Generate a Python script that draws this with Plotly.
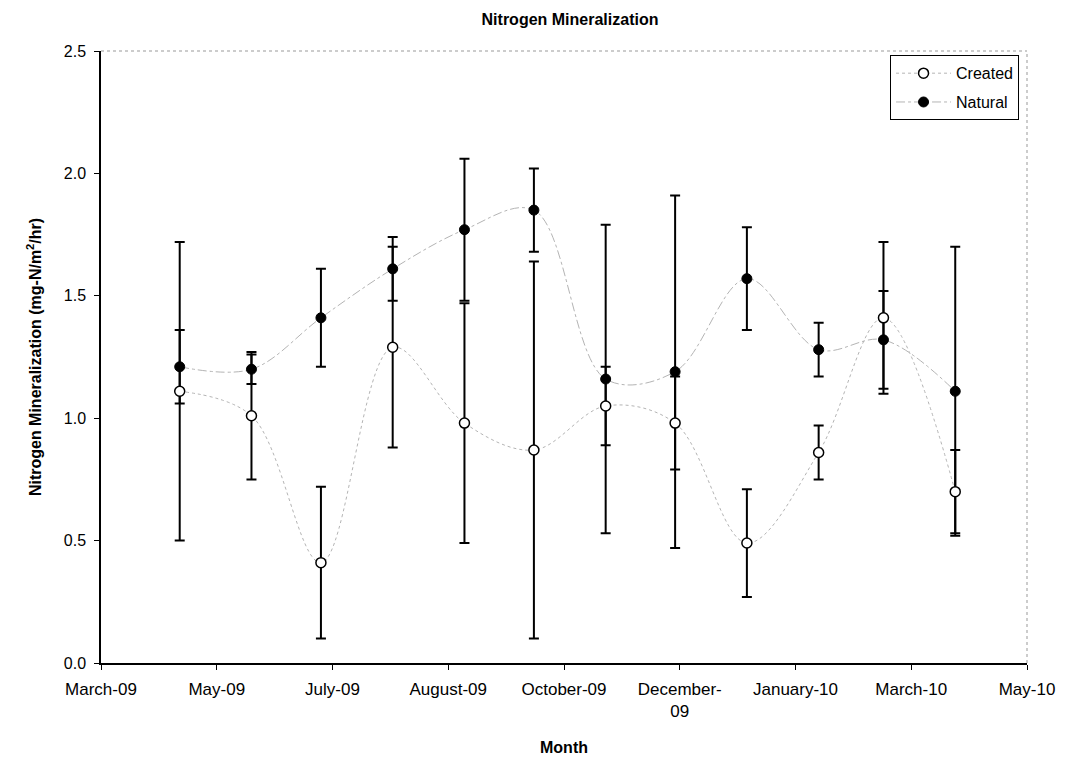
import pandas as pd
import plotly.graph_objects as go

# Sampling dates (monthly, May 2009 - April 2010)
dates = ["2009-05-04", "2009-06-04", "2009-07-04", "2009-08-04", "2009-09-04", "2009-10-04",
         "2009-11-04", "2009-12-04", "2010-01-04", "2010-02-04", "2010-03-04", "2010-04-04"]

# Mean mineralization rates (mg-N/m2/hr) and their error values
created = [1.11, 1.01, 0.41, 1.29, 0.98, 0.87, 1.05, 0.98, 0.49, 0.86, 1.41, 0.70]
created_err = [0.61, 0.26, 0.31, 0.41, 0.49, 0.77, 0.16, 0.19, 0.22, 0.11, 0.31, 0.17]
natural = [1.21, 1.20, 1.41, 1.61, 1.77, 1.85, 1.16, 1.19, 1.57, 1.28, 1.32, 1.11]
natural_err = [0.15, 0.06, 0.20, 0.13, 0.29, 0.17, 0.63, 0.72, 0.21, 0.11, 0.20, 0.59]

# Date axis: 50-day major unit
axis_start, axis_end = "2009-03-31", "2010-05-05"
tick_dates = pd.date_range(axis_start, axis_end, freq="50D")
tick_text = []
for d in tick_dates:
    s = d.strftime("%B-%y")
    if len(s) > 10:
        s = s.replace("-", "-<br>")
    tick_text.append(s)

FONT = "Arial, 'Liberation Sans', sans-serif"
GRAY = "#b4b4b4"

fig = go.Figure()

fig.add_trace(go.Scatter(
    x=dates, y=natural, name="Natural", mode="lines+markers",
    line=dict(color=GRAY, width=1, dash="dashdot", shape="spline", smoothing=1),
    marker=dict(symbol="circle", size=10, color="black", line=dict(color="black", width=1)),
    error_y=dict(type="data", array=natural_err, visible=True, color="black",
                 thickness=2, width=5),
    legendrank=2, legendgroup="natural",
))

fig.add_trace(go.Scatter(
    x=dates, y=created, name="Created", mode="lines+markers",
    line=dict(color=GRAY, width=1, dash="dot", shape="spline", smoothing=1),
    marker=dict(symbol="circle", size=10, color="white", line=dict(color="black", width=1.5)),
    error_y=dict(type="data", array=created_err, visible=True, color="black",
                 thickness=2, width=5),
    legendrank=1, legendgroup="created",
))

# Light dotted frame on the top and right of the plotting area
fig.add_shape(type="line", xref="paper", yref="paper", x0=0, x1=1, y0=1, y1=1,
              line=dict(color="#999999", width=1, dash="dot"))
fig.add_shape(type="line", xref="paper", yref="paper", x0=1, x1=1, y0=0, y1=1,
              line=dict(color="#999999", width=1, dash="dot"))

fig.update_layout(
    width=1065, height=760,
    margin=dict(l=101, r=38, t=51, b=97),
    paper_bgcolor="white", plot_bgcolor="white",
    font=dict(family=FONT, size=16, color="black"),
    title=dict(text="<b>Nitrogen Mineralization</b>", x=570 / 1065, xref="container",
               xanchor="center", y=1 - 19 / 760, yanchor="middle",
               font=dict(size=16, family=FONT)),
    showlegend=True,
    legend=dict(x=0.9914, y=0.993, xanchor="right", yanchor="top",
                bordercolor="black", borderwidth=1, bgcolor="white",
                font=dict(size=16, family=FONT), traceorder="grouped",
                tracegroupgap=5, itemwidth=55),
    xaxis=dict(
        type="date", range=[axis_start, axis_end], automargin=False,
        tickmode="array", tickvals=tick_dates, ticktext=tick_text,
        showgrid=False, zeroline=False,
        showline=True, linecolor="black", linewidth=1.5,
        ticks="outside", ticklen=5, tickcolor="black",
        ticklabelstandoff=5, tickfont=dict(size=17),
        title=dict(text="<b>Month</b>", standoff=22, font=dict(size=16)),
    ),
    yaxis=dict(
        range=[0, 2.5], dtick=0.5, tickformat=".1f", automargin=False,
        showgrid=False, zeroline=False,
        showline=True, linecolor="black", linewidth=1.5,
        ticks="outside", ticklen=5, tickcolor="black",
        ticklabelstandoff=5, tickfont=dict(size=16),
        title=dict(text="<b>Nitrogen Mineralization (mg-N/m<sup>2</sup>/hr)</b>",
                   standoff=18, font=dict(size=16)),
    ),
)

fig.write_html("out.html")
